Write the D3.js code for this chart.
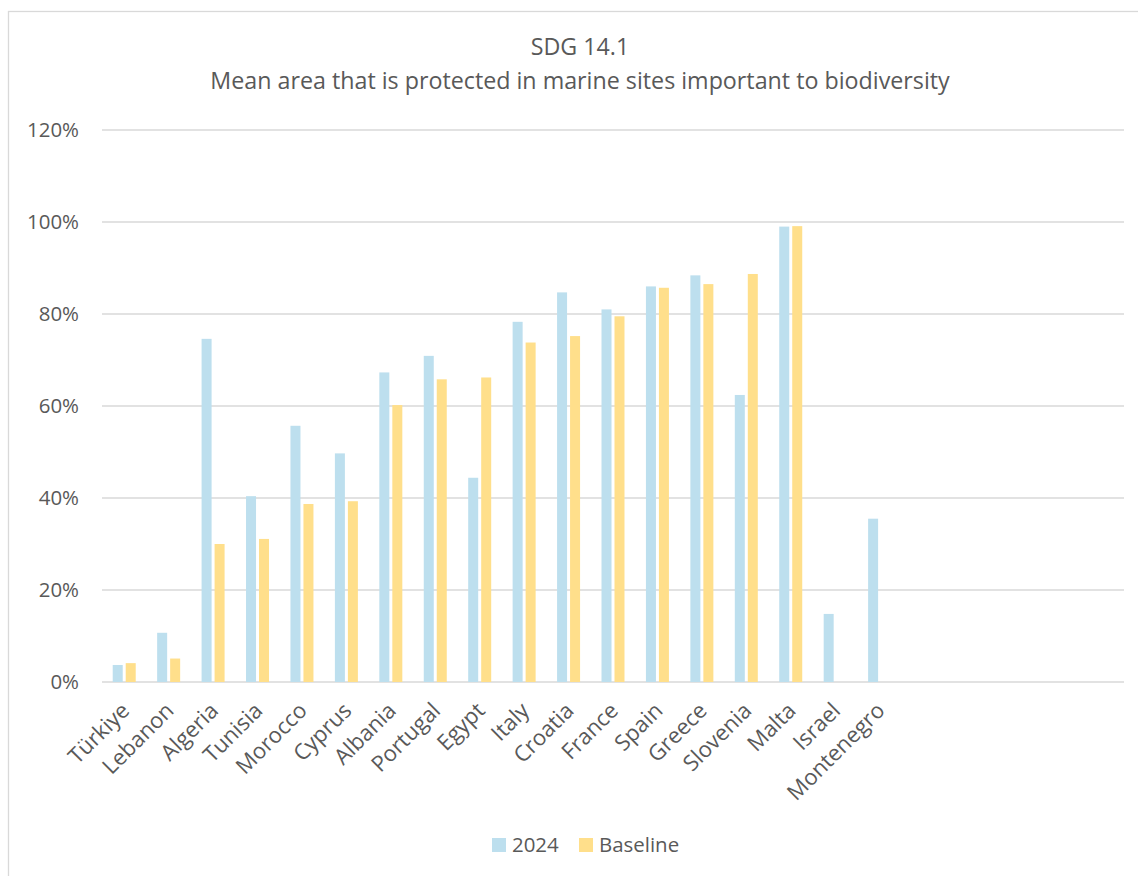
<!DOCTYPE html>
<html><head><meta charset="utf-8">
<script src="https://cdn.jsdelivr.net/npm/d3@7"></script>
<style>
body{margin:0;background:#fff}
svg{display:block}
text{font-family:"Open Sans",sans-serif;fill:#595959}
</style>
</head><body>
<svg id="c" width="1138" height="876"></svg>
<script>
const titleLines = ["SDG 14.1", "Mean area that is protected in marine sites important to biodiversity"];
const categories = ["Türkiye","Lebanon","Algeria","Tunisia","Morocco","Cyprus","Albania","Portugal","Egypt","Italy","Croatia","France","Spain","Greece","Slovenia","Malta","Israel","Montenegro"];
const emptySlots = 5;
const seriesNames = ["2024", "Baseline"];
const values2024 = [3.7, 10.7, 74.6, 40.4, 55.7, 49.7, 67.3, 70.9, 44.4, 78.3, 84.7, 81.0, 86.0, 88.4, 62.4, 99.0, 14.8, 35.5];
const valuesBaseline = [4.1, 5.1, 30.0, 31.1, 38.7, 39.3, 60.2, 65.8, 66.2, 73.8, 75.2, 79.5, 85.7, 86.5, 88.7, 99.1, null, null];
const yTicks = [0, 20, 40, 60, 80, 100, 120];
const colors = ["#BDDFEE", "#FFDF8B"];

const svg = d3.select("#c");
const grid = "#D9D9D9";

// chart border
svg.append("rect").attr("x", 8.5).attr("y", 11.5).attr("width", 1160).attr("height", 900)
  .attr("fill", "none").attr("stroke", grid).attr("stroke-width", 1.3);

const slots = d3.range(categories.length + emptySlots);
const x = d3.scaleBand().domain(slots).range([102, 1124]).padding(0);
const pairW = 23;
const x1 = d3.scaleBand().domain(seriesNames)
  .range([(x.bandwidth() - pairW) / 2, (x.bandwidth() + pairW) / 2]).paddingInner(0.23);
const y = d3.scaleLinear().domain([0, 120]).range([682, 130]);

function fit(sel, target) {
  const n = sel.node();
  const fs = parseFloat(sel.attr("font-size"));
  const w = n.getComputedTextLength();
  sel.attr("font-size", fs * target / w);
  return fs * target / w;
}

// title
const t2 = svg.append("text").attr("x", 580).attr("y", 89).attr("text-anchor", "middle")
  .attr("font-size", 20).text(titleLines[1]);
const tfs = fit(t2, 740);
svg.append("text").attr("x", 580).attr("y", 55).attr("text-anchor", "middle")
  .attr("font-size", tfs).text(titleLines[0]);

// grid lines
svg.append("g").selectAll("line").data(yTicks).join("line")
  .attr("x1", 102).attr("x2", 1124)
  .attr("y1", d => y(d)).attr("y2", d => y(d))
  .attr("stroke", grid).attr("stroke-width", 1.5);

// y tick labels
const yl = svg.append("g").selectAll("text").data(yTicks).join("text")
  .attr("x", 79).attr("y", d => y(d) + 7).attr("text-anchor", "end")
  .attr("font-size", 20).text(d => d + "%");
const yfs = fit(d3.select(yl.nodes()[6]), 52);
yl.attr("font-size", yfs);

// bars
const seriesData = [values2024, valuesBaseline];
seriesData.forEach((vals, si) => {
  svg.append("g").selectAll("rect")
    .data(vals.map((v, i) => ({i, v})).filter(d => d.v != null))
    .join("rect")
    .attr("x", d => x(d.i) + x1(seriesNames[si]))
    .attr("width", x1.bandwidth())
    .attr("y", d => y(d.v))
    .attr("height", d => y(0) - y(d.v))
    .attr("fill", colors[si]);
});

// x labels
const xl = svg.append("g").selectAll("text").data(categories).join("text")
  .attr("transform", (d, i) => `translate(${x(i) + x.bandwidth() / 2 + 6.5},712) rotate(-45)`)
  .attr("text-anchor", "end").attr("font-size", 20).text(d => d);
const xfs = fit(d3.select(xl.nodes()[17]), 127);
xl.attr("font-size", xfs);

// legend
const legX = [492, 579];
const lg = svg.append("g");
seriesNames.forEach((s, i) => {
  lg.append("rect").attr("x", legX[i]).attr("y", 838).attr("width", 14).attr("height", 14).attr("fill", colors[i]);
  lg.append("text").attr("x", legX[i] + 20).attr("y", 852).attr("font-size", yfs).text(s);
});
</script>
</body></html>
